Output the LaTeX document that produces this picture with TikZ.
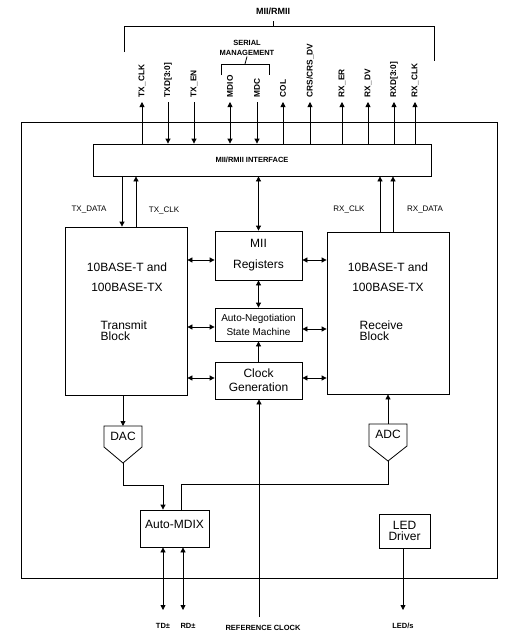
\documentclass[tikz,border=0pt]{standalone}
\usepackage{fontspec}
\setmainfont{Liberation Sans}
\usetikzlibrary{arrows.meta}
\begin{document}
\begin{tikzpicture}[x=1pt,y=-1pt,thick,>={Stealth[length=5pt,width=5pt,inset=0pt]},
    blk/.style={draw, inner sep=0pt, align=center, font=\fontsize{12}{14}\selectfont},
    sig/.style={rotate=90, anchor=west, inner sep=0.5pt, font=\bfseries\fontsize{8.3}{10}\selectfont},
    bus/.style={inner sep=0.5pt, font=\fontsize{8}{10}\selectfont},
    pin/.style={inner sep=0.5pt, font=\bfseries\fontsize{7.5}{9}\selectfont}]
    \useasboundingbox (0,0) rectangle (513,640);
    \node[blk, minimum width=476pt, minimum height=456pt] (chip) at (259,350) {};
    \node[blk, minimum width=338pt, minimum height=32pt, font=\bfseries\fontsize{7.5}{9}\selectfont] (iface) at (262,160) {MII/RMII INTERFACE\hspace{20pt}};
    \node[blk, minimum width=122pt, minimum height=168pt] (tx) at (126,311) {};
    \node[align=center, font=\fontsize{12}{20}\selectfont] (txname) at (127,277) {10BASE-T and\\100BASE-TX};
    \node[anchor=west, align=left, font=\fontsize{12}{11}\selectfont] (txrole) at (97,331) {Transmit\\Block};
    \node[blk, minimum width=122pt, minimum height=162pt] (rx) at (388,313) {};
    \node[align=center, font=\fontsize{12}{20}\selectfont] (rxname) at (388,277) {10BASE-T and\\100BASE-TX};
    \node[anchor=west, align=left, font=\fontsize{12}{11}\selectfont] (rxrole) at (356,331) {Receive\\Block};
    \node[blk, minimum width=87pt, minimum height=49pt, font=\fontsize{12}{21}\selectfont] (mii) at (258.5,255.5) {MII\\Registers};
    \node[blk, minimum width=87pt, minimum height=33pt, font=\fontsize{10}{14}\selectfont] (aneg) at (258.5,324.5) {Auto-Negotiation\\State Machine};
    \node[blk, minimum width=87pt, minimum height=37pt] (clk) at (258.5,380.5) {Clock\\Generation};
    \node[blk, minimum width=69pt, minimum height=37pt, text depth=9pt] (mdix) at (174.5,528.5) {Auto-MDIX};
    \node[blk, minimum width=51pt, minimum height=34pt, font=\fontsize{12}{11}\selectfont] (led) at (404.5,531) {LED\\Driver};
    % converters
    \draw (104,426) -- (142,426) -- (142,447) -- (123,463) -- (104,447) -- cycle;
    \node[font=\fontsize{12}{14}\selectfont] (dac) at (123,436) {DAC};
    \coordinate (dacin) at (123,426);
    \coordinate (dacout) at (123,463);
    \draw (369,424) -- (407,424) -- (407,446) -- (388,461) -- (369,446) -- cycle;
    \node[font=\fontsize{12}{14}\selectfont] (adc) at (388,434) {ADC};
    \coordinate (adcout) at (388,424);
    \coordinate (adcin) at (388,461);
    % MII/RMII bus
    \node[inner sep=1pt, font=\bfseries\fontsize{9}{11}\selectfont] (busname) at (273,11) {MII/RMII};
    \coordinate (busl) at (124,52);
    \coordinate (busr) at (434,61);
    \coordinate (busm) at (273,26);
    \coordinate (bustop) at (273,21);
    \draw (busl) |- (busr |- busm) -- (busr);
    \draw (busm) -- (bustop);
    \node[inner sep=0.5pt, align=center, font=\bfseries\fontsize{7.5}{10}\selectfont] (serial) at (247,48) {SERIAL\\MANAGEMENT};
    \coordinate (sml) at (221,75);
    \coordinate (smr) at (269,75);
    \coordinate (smm) at (245,64);
    \draw (sml) |- (smr |- smm) -- (smr);
    \draw (smm) -- (serial.south);
    \node[sig] (txclk) at (142,98) {TX\_CLK};
    \node[sig] (txd) at (168,98) {TXD[3:0]};
    \node[sig] (txen) at (194,98) {TX\_EN};
    \node[sig] (mdio) at (230,98) {MDIO};
    \node[sig] (mdc) at (257,98) {MDC};
    \node[sig] (col) at (283,98) {COL};
    \node[sig] (crs) at (310,98) {CRS/CRS\_DV};
    \node[sig] (rxer) at (342,98) {RX\_ER};
    \node[sig] (rxdv) at (368,98) {RX\_DV};
    \node[sig] (rxd) at (394,98) {RXD[3:0]};
    \node[sig] (rxclk) at (415,98) {RX\_CLK};
    \draw[->] (txclk |- iface.north) -- ([yshift=-4pt]txclk.west);
    \draw[<-] (txd |- iface.north) -- ([yshift=-4pt]txd.west);
    \draw[<-] (txen |- iface.north) -- ([yshift=-4pt]txen.west);
    \draw[<->] (mdio |- iface.north) -- ([yshift=-4pt]mdio.west);
    \draw[<-] (mdc |- iface.north) -- ([yshift=-4pt]mdc.west);
    \draw[->] (col |- iface.north) -- ([yshift=-4pt]col.west);
    \draw[->] (crs |- iface.north) -- ([yshift=-4pt]crs.west);
    \draw[->] (rxer |- iface.north) -- ([yshift=-4pt]rxer.west);
    \draw[->] (rxdv |- iface.north) -- ([yshift=-4pt]rxdv.west);
    \draw[->] (rxd |- iface.north) -- ([yshift=-4pt]rxd.west);
    \draw[->] (rxclk |- iface.north) -- ([yshift=-4pt]rxclk.west);
    % inner paths
    \node[bus] (txdata) at (89,210) {TX\_DATA};
    \node[bus] (txclkin) at (164,210) {TX\_CLK};
    \node[bus] (rxclkout) at (349,209) {RX\_CLK};
    \node[bus] (rxdata) at (425,210) {RX\_DATA};
    \coordinate (txdatx) at (122,200);
    \coordinate (txclkx) at (136,200);
    \coordinate (rxclkx) at (380,200);
    \coordinate (rxdatx) at (393,200);
    \draw[->] (txdatx |- iface.south) -- (txdatx |- tx.north);
    \draw[->] (txclkx |- tx.north) -- (txclkx |- iface.south);
    \draw[->] (rxclkx |- rx.north) -- (rxclkx |- iface.south);
    \draw[->] (rxdatx |- rx.north) -- (rxdatx |- iface.south);
    \draw[<->] (mii |- iface.south) -- (mii.north);
    \draw[<->] (mii) -- (aneg);
    \draw[->] (clk) -- (aneg);
    \coordinate (ya) at (0,260);
    \coordinate (yb) at (0,327);
    \coordinate (yc) at (0,329);
    \coordinate (yd) at (0,378);
    \draw[<->] (tx.east |- ya) -- (mii.west |- ya);
    \draw[<->] (mii.east |- ya) -- (rx.west |- ya);
    \draw[<->] (tx.east |- yb) -- (aneg.west |- yb);
    \draw[<->] (aneg.east |- yc) -- (rx.west |- yc);
    \draw[<->] (tx.east |- yd) -- (clk.west |- yd);
    \draw[<->] (clk.east |- yd) -- (rx.west |- yd);
    \draw[->] (dacin |- tx.south) -- (dacin);
    \draw[->] (adcout) -- (adcout |- rx.south);
    \coordinate (txjoin) at (163,485);
    \coordinate (rxjoin) at (181,484);
    \draw[->] (dacout) |- (txjoin) -- (txjoin |- mdix.north);
    \draw (adcin) |- (rxjoin) -- (rxjoin |- mdix.north);
    % pins
    \node[pin] (td) at (163,626) {TD±};
    \node[pin] (rd) at (188,626) {RD±};
    \node[pin] (refclk) at (263,628) {REFERENCE CLOCK};
    \node[pin] (leds) at (403,626) {LED/s};
    \coordinate (tdend) at (163,610);
    \coordinate (rdend) at (183,610);
    \coordinate (refin) at (259,617);
    \coordinate (ledend) at (403,610);
    \draw[<->] (tdend |- mdix.south) -- (tdend);
    \draw[<->] (rdend |- mdix.south) -- (rdend);
    \draw[->] (refin) -- (refin |- clk.south);
    \draw[->] (ledend |- led.south) -- (ledend);
  \end{tikzpicture}
\end{document}
